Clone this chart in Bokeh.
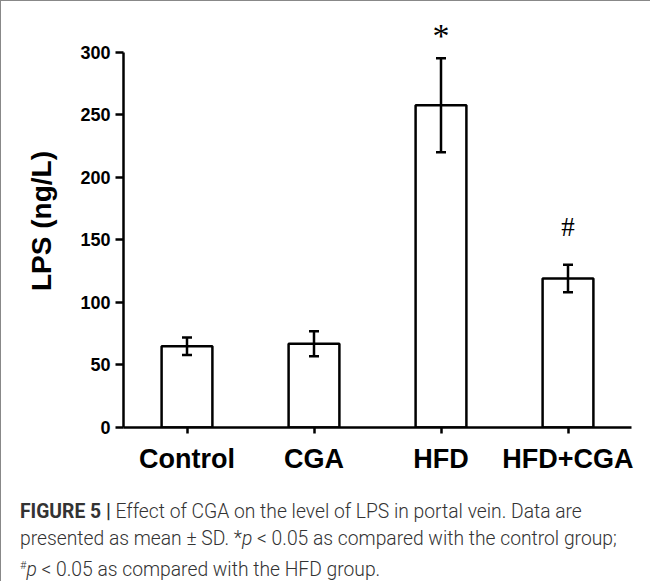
from bokeh.plotting import figure
from bokeh.models import ColumnDataSource, Whisker, TeeHead, FixedTicker, Div, FactorRange, Range1d
from bokeh.layouts import column
from bokeh.embed import file_html
from bokeh.resources import INLINE
from bokeh.core.properties import value

groups = ["Control", "CGA", "HFD", "HFD+CGA"]
means = [65, 67, 257.5, 119]
sds = [7, 10, 37.5, 11]
y_ticks = [0, 50, 100, 150, 200, 250, 300]
star_group = ["HFD"]
star_y = [313]
hash_group = ["HFD+CGA"]
hash_y = [160]

upper = [m + s for m, s in zip(means, sds)]
lower = [m - s for m, s in zip(means, sds)]
src = ColumnDataSource(dict(x=groups, top=means, upper=upper, lower=lower))

p = figure(x_range=FactorRange(*groups), y_range=Range1d(0, 330),
           width=641, height=481,
           min_border_left=122, min_border_right=11, min_border_top=13, min_border_bottom=55,
           output_backend="svg", toolbar_location=None)
p.xgrid.visible = False
p.ygrid.visible = False
p.outline_line_color = None

p.vbar(x="x", top="top", bottom=0, width=0.4, source=src,
       fill_color="white", line_color="black", line_width=2.5)
head = dict(size=10, line_width=2.5, line_color="black")
w = Whisker(base="x", upper="upper", lower="lower", source=src,
            line_width=2.5, line_color="black", level="overlay",
            upper_head=TeeHead(**head), lower_head=TeeHead(**head))
p.add_layout(w)

p.text(x=star_group, y=star_y, text=["*"], text_font=value("Liberation Serif"),
       text_font_size="34px", text_align="center", text_baseline="alphabetic",
       text_color="black")
p.text(x=hash_group, y=hash_y, text=["#"], text_font=value("Liberation Serif"),
       text_font_size="27px", text_align="center", text_baseline="alphabetic",
       text_color="black")

ya = p.yaxis[0]
ya.ticker = FixedTicker(ticks=y_ticks)
ya.bounds = (0, 300)
ya.minor_tick_line_color = None
ya.major_tick_in = 0
ya.major_tick_out = 8
ya.axis_line_width = 2.5
ya.major_tick_line_width = 2.5
ya.major_label_text_font = "Liberation Sans"
ya.major_label_text_font_style = "bold"
ya.major_label_text_font_size = "18px"
ya.major_label_text_color = "black"
ya.major_label_standoff = 5
ya.axis_label = "LPS (ng/L)"
ya.axis_label_text_font = "Liberation Sans"
ya.axis_label_text_font_style = "bold"
ya.axis_label_text_font_size = "28px"
ya.axis_label_text_color = "black"
ya.axis_label_standoff = 20

xa = p.xaxis[0]
xa.major_tick_in = 0
xa.major_tick_out = 6
xa.axis_line_width = 2.5
xa.major_tick_line_width = 2.5
xa.major_label_text_font = "Liberation Sans"
xa.major_label_text_font_style = "bold"
xa.major_label_text_font_size = "27px"
xa.major_label_text_color = "black"
xa.major_label_standoff = 10

caption = (
    '<div style="font-family: Roboto, \'Liberation Sans\', sans-serif; font-weight: 300; '
    'font-size: 19.3px; line-height: 27px; color: #333; white-space: nowrap; padding: 11px 0 0 14px;">'
    '<span style="font-weight: 700;">FIGURE 5 |</span> Effect of CGA on the level of LPS in portal vein. Data are<br>'
    'presented as mean ± SD. *<i>p</i> &lt; 0.05 as compared with the control group;<br>'
    '<sup style="font-size: 11px;">#</sup><i>p</i> &lt; 0.05 as compared with the HFD group.'
    '</div>'
)
div = Div(text=caption, width=641, height=91)

layout = column(p, div, styles={"border-left": "1px solid #888", "border-top": "1px solid #888"})

open("out.html", "w").write(file_html(layout, INLINE))
